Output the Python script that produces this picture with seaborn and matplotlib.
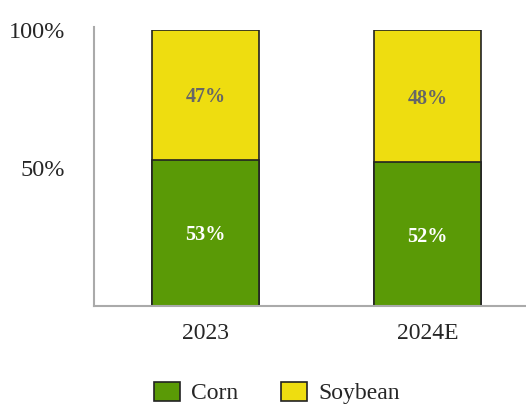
import matplotlib
matplotlib.use("Agg")
import matplotlib.pyplot as plt
from matplotlib.patches import Patch
import seaborn as sns
import pandas as pd

years = ["2023", "2024E"]
corn = [53, 52]
soybean = [47, 48]

sns.set_theme(style="white")
plt.rcParams["font.family"] = ["Liberation Serif", "DejaVu Serif"]

green = "#5a9a06"
yellow = "#eedd10"

df = pd.DataFrame({"year": years, "corn": corn, "soybean": soybean})
df["total"] = df["corn"] + df["soybean"]

fig = plt.figure(figsize=(5.26, 4.05), dpi=100)
ax = fig.add_axes([94 / 526, 1 - 306 / 405, 1 - 94 / 526, 276 / 405])

# stacked bars: full height in soybean colour, corn share drawn over it
sns.barplot(data=df, x="year", y="total", color=yellow, width=0.48,
            edgecolor="#222222", linewidth=1.2, saturation=1, ax=ax)
sns.barplot(data=df, x="year", y="corn", color=green, width=0.48,
            edgecolor="#222222", linewidth=1.2, saturation=1, ax=ax)

for i in range(len(years)):
    ax.text(i, corn[i] / 2, f"{corn[i]}%", ha="center", va="center_baseline",
            color="white", fontsize=14.5, fontweight="bold")
    ax.text(i, corn[i] + soybean[i] / 2, f"{soybean[i]}%", ha="center",
            va="center_baseline", color="#666666", fontsize=14.5, fontweight="bold")

ax.set_xlim(-0.502, 1.444)
ax.set_ylim(0, 100)
ax.set_yticks([50, 100])
ax.set_yticklabels(["50%", "100%"], fontsize=17.5)
ax.tick_params(axis="y", length=0, pad=21)
ax.tick_params(axis="x", length=0, labelsize=17, pad=12)
ax.set_xlabel("")
ax.set_ylabel("")
for s in ["top", "right"]:
    ax.spines[s].set_visible(False)
for s in ["left", "bottom"]:
    ax.spines[s].set_color("#aaaaaa")
    ax.spines[s].set_linewidth(1.5)
ax.spines["left"].set_bounds(0, 101)

handles = [Patch(facecolor=green, edgecolor="#222222", linewidth=1.2, label="Corn"),
           Patch(facecolor=yellow, edgecolor="#222222", linewidth=1.2, label="Soybean")]
fig.legend(handles=handles, loc="center", bbox_to_anchor=(277 / 526, 1 - 393 / 405),
           ncol=2, frameon=False, fontsize=17, handlelength=1.1, handleheight=0.9,
           columnspacing=1.8, handletextpad=0.47, borderpad=0)

fig.savefig("out.png", dpi=100)
